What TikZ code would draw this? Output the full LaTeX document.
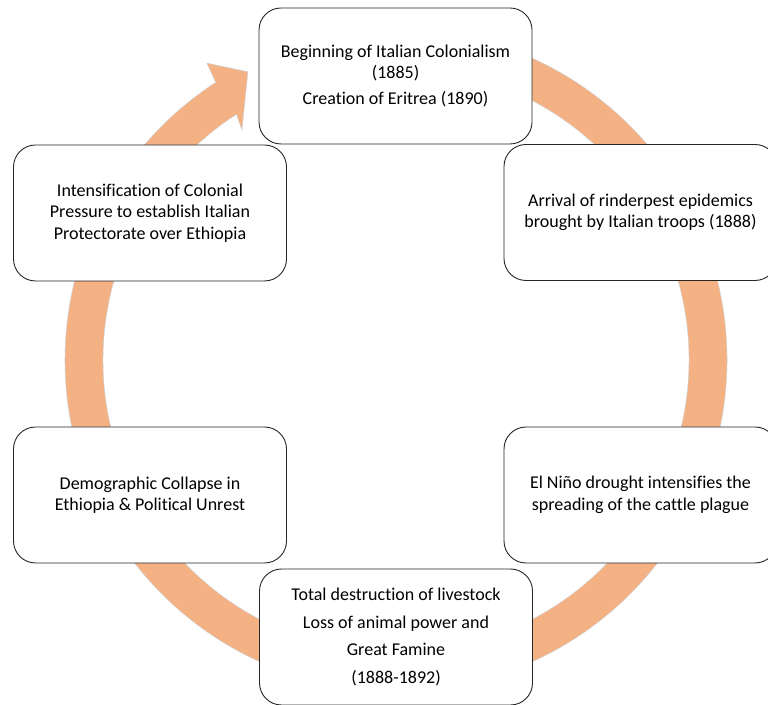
\documentclass[tikz,border=0pt]{standalone}
\usepackage{fontspec}
\setmainfont{Carlito}[Ligatures=NoCommon]
\definecolor{ringpeach}{RGB}{244,177,131}
\definecolor{boxline}{RGB}{38,38,38}

\begin{document}
\begin{tikzpicture}[x=1pt,y=1pt,
  stage/.style={draw=boxline,line width=0.9pt,fill=white,rounded corners=22pt,
    minimum width=273pt,minimum height=136pt,inner sep=0pt,align=center,
    font=\fontsize{18}{21.5}\selectfont}]
  \useasboundingbox (0,0) rectangle (768,704);
  \clip (0,0) rectangle (768,704);
  % anillo con flecha (sentido horario)
  \begin{scope}[shift={(396,344)}]
    \fill[ringpeach,draw=black!18,line width=0.5pt]
      (85:331) arc[start angle=85,end angle=-237,radius=331]
      -- (122.5:352) -- (117.2:324) -- (123.8:277) -- (123:293)
      arc[start angle=-237,end angle=85,radius=293] -- cycle;
  \end{scope}
  % etapas
  \node[stage] (colonial) at (395.5,628) {Beginning of Italian Colonialism\\(1885)\\[4pt]Creation of Eritrea (1890)};
  \node[stage] (rinder) at (640.5,491.5) {Arrival of rinderpest epidemics\\brought by Italian troops (1888)};
  \node[stage] (nino) at (640.5,209) {El Niño drought intensifies the\\spreading of the cattle plague};
  \node[stage] (famine) at (396,67) {Total destruction of livestock\\[6pt]Loss of animal power and\\[6pt]Great Famine\\[6pt](1888-1892)};
  \node[stage] (collapse) at (150,209) {Demographic Collapse in\\Ethiopia \& Political Unrest};
  \node[stage] (pressure) at (150,491) {Intensification of Colonial\\Pressure to establish Italian\\Protectorate over Ethiopia};
\end{tikzpicture}
\end{document}
